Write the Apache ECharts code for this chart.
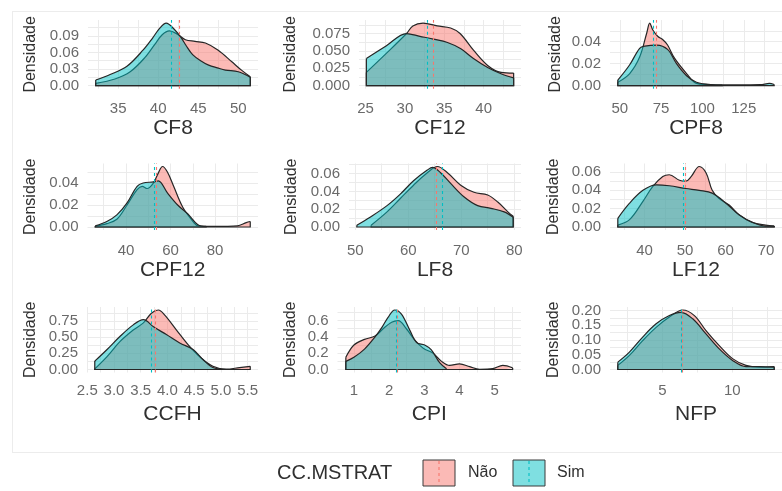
<!DOCTYPE html>
<html><head><meta charset="utf-8">
<script src="https://cdn.jsdelivr.net/npm/echarts@6/dist/echarts.min.js"></script>
<style>html,body{margin:0;padding:0;background:#fff}#c{width:782px;height:491px}</style>
</head><body><div id="c"></div>
<script>
// ---------------- DATA ----------------
const GROUPS = ['Não', 'Sim'];
const LEGEND_TITLE = 'CC.MSTRAT';
const Y_TITLE = 'Densidade';
const VARIABLES = ['CF8', 'CF12', 'CPF8', 'CPF12', 'LF8', 'LF12', 'CCFH', 'CPI', 'NFP'];

// density curves [x, density]
const CF8_nao = [[32.2,0.004],[34.6,0.012],[36.5,0.025],[38.3,0.050],[39.6,0.075],[40.5,0.092],[41.4,0.099],[42.4,0.093],[43.4,0.083],[44.6,0.080],[45.9,0.077],[47.5,0.064],[49.2,0.043],[50.4,0.028],[51.5,0.016]];
const CF8_sim = [[32.2,0.010],[34.0,0.020],[36.1,0.035],[38.1,0.064],[39.3,0.086],[40.2,0.104],[41.0,0.113],[42.0,0.102],[42.8,0.088],[43.5,0.072],[44.3,0.056],[45.3,0.045],[46.3,0.037],[47.4,0.032],[48.4,0.028],[50.0,0.025],[51.5,0.015]];
const CF8_means = [42.6, 41.6];
const CF8_xticks = [35, 40, 45, 50];
const CF8_yticks = [0, 0.03, 0.06, 0.09];

const CF12_nao = [[25.1,0.019],[27.6,0.046],[30.2,0.075],[31.0,0.086],[32.3,0.090],[34.1,0.086],[35.8,0.083],[37.0,0.075],[38.7,0.051],[40.5,0.029],[42.2,0.019],[43.8,0.018]];
const CF12_sim = [[25.1,0.039],[27.6,0.057],[30.2,0.075],[31.9,0.071],[33.6,0.067],[35.4,0.062],[37.1,0.053],[38.7,0.039],[40.5,0.026],[42.2,0.017],[43.8,0.011]];
const CF12_means = [33.6, 32.8];
const CF12_xticks = [25, 30, 35, 40];
const CF12_yticks = [0, 0.025, 0.05, 0.075];

const CPF8_nao = [[48.8,0.003],[56.0,0.011],[62.0,0.026],[66.3,0.048],[68.1,0.057],[69.9,0.051],[72.9,0.045],[75.9,0.042],[78.9,0.037],[83.1,0.025],[90.4,0.011],[96.4,0.002],[103,0.001],[112,0.0005]];
const CPF8_sim = [[48.8,0.005],[56.0,0.019],[62.0,0.034],[65.1,0.036],[72.3,0.037],[78.9,0.033],[84.3,0.020],[90.4,0.009],[96.4,0.003],[105,0.001],[120,0.0006],[135,0.0008],[140.5,0.002],[143.4,0.001]];
const CPF8_means = [71.8, 70.5];
const CPF8_xticks = [50, 75, 100, 125];
const CPF8_yticks = [0, 0.02, 0.04];

const CPF12_nao = [[26.2,0.0005],[31.4,0.003],[35.9,0.007],[40.5,0.020],[45.0,0.034],[47.3,0.037],[49.5,0.035],[52.3,0.040],[54.5,0.049],[56.4,0.055],[58.6,0.050],[61.4,0.037],[65.5,0.018],[70.5,0.004],[72.3,0.001],[80,0.0005],[90,0.001],[94,0.004],[95.8,0.005]];
const CPF12_sim = [[26.2,0.001],[31.4,0.005],[35.9,0.011],[40.5,0.022],[45.0,0.037],[47.7,0.040],[52.3,0.041],[54.5,0.042],[58.6,0.031],[63.2,0.020],[67.7,0.012],[72.3,0.002],[76.0,0.0005]];
const CPF12_means = [53.6, 52.9];
const CPF12_xticks = [40, 60, 80];
const CPF12_yticks = [0, 0.02, 0.04];

const LF8_nao = [[53.0,0.002],[56.0,0.017],[58.5,0.032],[61.0,0.047],[63.6,0.061],[65.5,0.068],[67.4,0.061],[69.9,0.047],[72.4,0.039],[75.0,0.036],[76.9,0.028],[78.8,0.017],[79.8,0.012]];
const LF8_sim = [[50.3,0.002],[52.8,0.011],[56.0,0.024],[58.5,0.037],[61.0,0.052],[63.6,0.064],[64.6,0.067],[66.1,0.061],[68.0,0.049],[70.5,0.034],[73.1,0.024],[75.6,0.021],[78.1,0.017],[79.8,0.011]];
const LF8_means = [65.2, 66.5];
const LF8_xticks = [50, 60, 70, 80];
const LF8_yticks = [0, 0.02, 0.04, 0.06];

const LF12_nao = [[33.4,0.002],[36.3,0.008],[39.6,0.028],[42.0,0.044],[44.5,0.055],[46.1,0.057],[48.6,0.051],[50.2,0.050],[51.5,0.055],[53.5,0.066],[55.2,0.059],[56.7,0.040],[58.4,0.031],[60.9,0.024],[63.4,0.013],[66.6,0.005],[69.9,0.002],[72.0,0.001]];
const LF12_sim = [[33.4,0.0095],[36.3,0.026],[39.6,0.040],[42.9,0.046],[46.1,0.045],[50.2,0.042],[53.5,0.040],[56.7,0.037],[60.1,0.026],[63.4,0.013],[66.6,0.005],[69.9,0.001],[72.0,0.001]];
const LF12_means = [50.0, 49.6];
const LF12_xticks = [40, 50, 60, 70];
const LF12_yticks = [0, 0.02, 0.04, 0.06];

const CCFH_nao = [[2.64,0.01],[2.87,0.20],[3.11,0.43],[3.36,0.61],[3.55,0.72],[3.70,0.87],[3.83,0.92],[3.95,0.84],[4.17,0.61],[4.39,0.38],[4.60,0.20],[4.85,0.05],[5.10,0.005],[5.35,0.03],[5.55,0.05]];
const CCFH_sim = [[2.64,0.13],[2.87,0.31],[3.11,0.51],[3.36,0.69],[3.55,0.77],[3.74,0.66],[3.98,0.54],[4.23,0.41],[4.48,0.31],[4.67,0.15],[4.85,0.03],[5.00,0.005]];
const CCFH_means = [3.78, 3.70];
const CCFH_xticks = [2.5, 3.0, 3.5, 4.0, 4.5, 5.0, 5.5];
const CCFH_yticks = [0, 0.25, 0.5, 0.75];

const CPI_nao = [[0.77,0.15],[1.00,0.30],[1.30,0.37],[1.60,0.41],[1.83,0.50],[2.07,0.58],[2.26,0.60],[2.49,0.50],[2.73,0.36],[2.97,0.26],[3.25,0.20],[3.49,0.10],[3.72,0.05],[4.00,0.07],[4.29,0.035],[4.57,0.003],[4.94,0.01],[5.23,0.05],[5.51,0.02]];
const CPI_sim = [[0.77,0.10],[1.00,0.15],[1.30,0.25],[1.60,0.40],[1.80,0.52],[1.97,0.64],[2.16,0.73],[2.35,0.68],[2.59,0.48],[2.78,0.33],[3.01,0.30],[3.20,0.24],[3.44,0.08],[3.63,0.01]];
const CPI_means = [2.24, 2.20];
const CPI_xticks = [1, 2, 3, 4, 5];
const CPI_yticks = [0, 0.2, 0.4, 0.6];

const NFP_nao = [[1.81,0.014],[2.64,0.048],[3.59,0.098],[4.55,0.143],[5.50,0.178],[6.45,0.202],[7.29,0.183],[8.12,0.132],[9.07,0.081],[10.02,0.037],[10.98,0.014],[11.93,0.008],[13.0,0.010]];
const NFP_sim = [[1.81,0.025],[2.64,0.059],[3.59,0.110],[4.55,0.155],[5.50,0.183],[6.33,0.194],[7.17,0.172],[8.12,0.121],[9.07,0.070],[10.02,0.031],[10.98,0.010],[11.93,0.010],[13.0,0.008]];
const NFP_means = [6.42, 6.38];
const NFP_xticks = [5, 10];
const NFP_yticks = [0, 0.05, 0.1, 0.15, 0.2];

// ---------------- LAYOUT / STYLE ----------------
const DATA = {
  CF8:  {nao: CF8_nao,  sim: CF8_sim,  means: CF8_means,  xt: CF8_xticks,  yt: CF8_yticks,  xd: 0, yd: 2},
  CF12: {nao: CF12_nao, sim: CF12_sim, means: CF12_means, xt: CF12_xticks, yt: CF12_yticks, xd: 0, yd: 3},
  CPF8: {nao: CPF8_nao, sim: CPF8_sim, means: CPF8_means, xt: CPF8_xticks, yt: CPF8_yticks, xd: 0, yd: 2},
  CPF12:{nao: CPF12_nao,sim: CPF12_sim,means: CPF12_means,xt: CPF12_xticks,yt: CPF12_yticks,xd: 0, yd: 2},
  LF8:  {nao: LF8_nao,  sim: LF8_sim,  means: LF8_means,  xt: LF8_xticks,  yt: LF8_yticks,  xd: 0, yd: 2},
  LF12: {nao: LF12_nao, sim: LF12_sim, means: LF12_means, xt: LF12_xticks, yt: LF12_yticks, xd: 0, yd: 2},
  CCFH: {nao: CCFH_nao, sim: CCFH_sim, means: CCFH_means, xt: CCFH_xticks, yt: CCFH_yticks, xd: 1, yd: 2},
  CPI:  {nao: CPI_nao,  sim: CPI_sim,  means: CPI_means,  xt: CPI_xticks,  yt: CPI_yticks,  xd: 0, yd: 1},
  NFP:  {nao: NFP_nao,  sim: NFP_sim,  means: NFP_means,  xt: NFP_xticks,  yt: NFP_yticks,  xd: 0, yd: 2}
};
const ROWS = [
  {top: 20,    bottom: 88.7,  lm: 12.5, tg: 29.5},
  {top: 163.5, bottom: 230,   lm: 13.5, tg: 26.5},
  {top: 307,   bottom: 372.5, lm: 11,   tg: 31}
];
// [row, left, right, centre x of y title]
const LAYOUT = {
  CF8: [0, 88, 258, 31],   CF12: [0, 359, 521, 291],  CPF8: [0, 610, 782, 556],
  CPF12: [1, 87.5, 258, 31], LF8: [1, 349, 521, 292], LF12: [1, 610, 782, 554],
  CCFH: [2, 87, 258, 31],  CPI: [2, 337.5, 521, 291], NFP: [2, 610, 782, 554]
};
const FILL = ['rgba(248,118,109,0.5)', 'rgba(0,191,196,0.5)'];
const MEANC = ['#F8766D', '#00BFC4'];
const OUTLINE = '#262626';
const FONT = '"Liberation Sans", Arial, sans-serif';
const TICK_COLOR = '#6a6a6a';
const TITLE_COLOR = '#303030';
const GRID_COLOR = '#ebebeb';

function withMinor(major, lo, hi) {
  const step = major[1] - major[0];
  const vals = major.slice();
  for (let k = -1; k < major.length; k++) {
    const v = major[0] + step * (k + 0.5);
    if (v > lo && v < hi) vals.push(+v.toFixed(6));
  }
  return vals.sort((a, b) => a - b);
}

function outlineItem(params, api) {
  const a = api.coord([api.value(0), api.value(1)]);
  const b = api.coord([api.value(0), 0]);
  const c = api.coord([api.value(2), 0]);
  const e = api.coord([api.value(2), api.value(3)]);
  return {type: 'polyline', shape: {points: [a, b, c, e]},
    style: {stroke: OUTLINE, lineWidth: 1.2, fill: null}};
}

const grids = [], xAxes = [], yAxes = [], series = [];
VARIABLES.forEach((name, i) => {
  const d = DATA[name];
  const [r, left, right, ycx] = LAYOUT[name];
  const row = ROWS[r];
  const allX = d.nao.concat(d.sim).map(p => p[0]);
  const allY = d.nao.concat(d.sim).map(p => p[1]);
  const x0 = Math.min(...allX), x1 = Math.max(...allX);
  const xr = x1 - x0;
  const xmin = x0 - 0.05 * xr, xmax = x1 + 0.05 * xr;
  const ytop = Math.max(...allY);
  const ymin = -0.05 * ytop, ymax = ytop * 1.05;

  grids.push({left: left, top: row.top, width: right - left, height: row.bottom - row.top,
    containLabel: false, outerBoundsMode: 'none'});
  xAxes.push({
    type: 'value', gridIndex: i, min: xmin, max: xmax,
    name: name, nameLocation: 'middle', nameGap: row.tg,
    nameTextStyle: {fontSize: 21, color: TITLE_COLOR, fontFamily: FONT},
    axisLine: {show: false},
    axisTick: {show: false, customValues: withMinor(d.xt, xmin, xmax)},
    axisLabel: {customValues: d.xt, margin: row.lm, fontSize: 15,
      color: TICK_COLOR, fontFamily: FONT, formatter: v => Number(v).toFixed(d.xd),
      showMinLabel: true, showMaxLabel: true},
    splitLine: {show: true, lineStyle: {color: GRID_COLOR, width: 1}}
  });
  // two left axes share the tick labels alternately so that none is dropped for crowding
  const evenT = d.yt.filter((v, k) => k % 2 === 0);
  const oddT = d.yt.filter((v, k) => k % 2 === 1);
  const yLabel = (vals) => ({customValues: vals, margin: 9, fontSize: 15, color: TICK_COLOR,
    fontFamily: FONT, formatter: v => Number(v).toFixed(d.yd), showMinLabel: true, showMaxLabel: true});
  yAxes.push({
    type: 'value', gridIndex: i, min: ymin, max: ymax, position: 'left', offset: 0,
    name: Y_TITLE, nameLocation: 'middle', nameGap: left - ycx - 8, nameRotate: 90,
    nameTextStyle: {fontSize: 16, color: TITLE_COLOR, fontFamily: FONT},
    axisLine: {show: false},
    axisTick: {show: false, customValues: withMinor(d.yt, ymin, ymax)},
    axisLabel: yLabel(evenT),
    splitLine: {show: true, lineStyle: {color: GRID_COLOR, width: 1}}
  });
  yAxes.push({
    type: 'value', gridIndex: i, min: ymin, max: ymax, position: 'left', offset: 0,
    axisLine: {show: false}, axisTick: {show: false, customValues: oddT.length ? oddT : [0]},
    axisLabel: Object.assign(yLabel(oddT.length ? oddT : []), {show: oddT.length > 0}),
    splitLine: {show: false}
  });
  const yi = 2 * i;

  [d.nao, d.sim].forEach((curve, g) => {
    const first = curve[0], last = curve[curve.length - 1];
    const s = {
      type: 'line', name: GROUPS[g], xAxisIndex: i, yAxisIndex: yi,
      data: curve, smooth: 0.35, symbol: 'none', silent: true,
      lineStyle: {color: OUTLINE, width: 1.2},
      areaStyle: {color: FILL[g], opacity: 1}, z: 2 + g
    };
    if (g === 1) {
      s.markLine = {silent: true, symbol: ['none', 'none'], label: {show: false}, animation: false,
        data: d.means.map((m, k) => ({xAxis: m, lineStyle: {color: MEANC[k], type: [3, 3], width: 1.1}}))};
    }
    series.push(s);
    series.push({
      type: 'custom', xAxisIndex: i, yAxisIndex: yi, silent: true, z: 2 + g,
      data: [[first[0], first[1], last[0], last[1]]],
      renderItem: outlineItem
    });
  });
});

const LEG_Y = 473;
const graphic = [
  {type: 'line', silent: true, shape: {x1: 12, y1: 11.5, x2: 782, y2: 11.5}, style: {stroke: '#ececec', lineWidth: 1}},
  {type: 'line', silent: true, shape: {x1: 12.5, y1: 11, x2: 12.5, y2: 452}, style: {stroke: '#ececec', lineWidth: 1}},
  {type: 'line', silent: true, shape: {x1: 12, y1: 452.5, x2: 782, y2: 452.5}, style: {stroke: '#ececec', lineWidth: 1}},
  {type: 'text', silent: true, style: {text: LEGEND_TITLE, x: 277, y: LEG_Y, fill: TITLE_COLOR,
    font: '20px ' + FONT, textVerticalAlign: 'middle', verticalAlign: 'middle'}}
];
const KEYS = [{x: 423, tx: 468}, {x: 513, tx: 557}];
GROUPS.forEach((g, k) => {
  const kx = KEYS[k].x;
  graphic.push({type: 'rect', silent: true, shape: {x: kx, y: 460, width: 32, height: 26},
    style: {fill: FILL[k], stroke: '#3a3a3a', lineWidth: 1}});
  graphic.push({type: 'line', silent: true, shape: {x1: kx + 16, y1: 461, x2: kx + 16, y2: 485},
    style: {stroke: MEANC[k], lineWidth: 1.1, lineDash: [3, 3]}});
  graphic.push({type: 'text', silent: true, style: {text: g, x: KEYS[k].tx, y: LEG_Y, fill: TITLE_COLOR,
    font: '16px ' + FONT, textVerticalAlign: 'middle', verticalAlign: 'middle'}});
});

const chart = echarts.init(document.getElementById('c'), null, {renderer: 'canvas'});
chart.setOption({
  animation: false,
  backgroundColor: '#ffffff',
  grid: grids, xAxis: xAxes, yAxis: yAxes, series: series,
  graphic: graphic,
  tooltip: {show: false}
});
</script></body></html>
